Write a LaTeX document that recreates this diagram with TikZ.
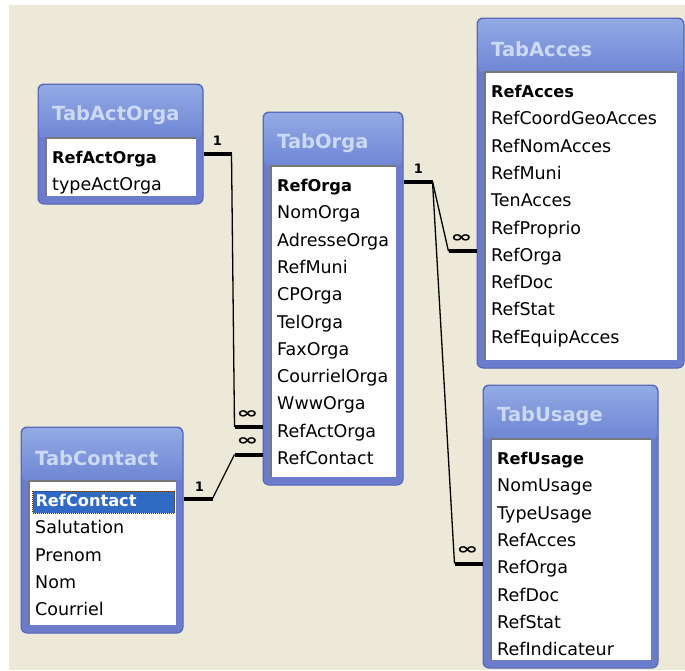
\documentclass[tikz,border=0pt]{standalone}
\usepackage{fontspec}
\setmainfont{DejaVu Sans}
\usetikzlibrary{calc,fit}
\definecolor{bg}{RGB}{236,233,216}
\definecolor{frame}{RGB}{108,124,204}
\definecolor{frameedge}{RGB}{84,98,178}
\definecolor{titletop}{RGB}{146,170,228}
\definecolor{titlebot}{RGB}{110,134,212}
\definecolor{titletext}{RGB}{204,217,243}
\definecolor{selblue}{RGB}{49,106,197}
\definecolor{listedgec}{RGB}{120,120,120}
\tikzset{
  framebox/.style={draw=frameedge, line width=1pt, fill=frame, rounded corners=6pt, inner sep=0pt},
  listbox/.style={fill=white, draw=none, inner sep=0pt},
  listedge/.style={draw=listedgec, line width=1.6pt},
  titletxt/.style={anchor=west, inner sep=0pt, text=titletext, font=\fontsize{19.5}{22}\selectfont\bfseries},
  rowtxt/.style={anchor=west, inner sep=0pt, text height=13pt, text depth=4pt, font=\fontsize{17.5}{20}\selectfont},
  keytxt/.style={anchor=west, inner xsep=3pt, inner ysep=0pt, text height=13pt, text depth=4pt, font=\fontsize{16.2}{20}\selectfont\bfseries},
  selkey/.style={fill=selblue, text=white, draw=black!60!orange, densely dotted, line width=1pt, minimum height=22pt, text width=136pt, align=left},
  thickbar/.style={line width=4pt},
  relline/.style={line width=1.3pt},
  onelbl/.style={font=\fontsize{13}{13}\selectfont\bfseries, inner sep=0pt},
  manylbl/.style={font=\fontsize{13}{13}\selectfont\bfseries, inner sep=0pt},
}
% #1 key style, #2 name, #3 x1, #4 y1, #5 x2, #6 y2, #7 title, #8 key, #9 fields
\newcommand\dbtable[9][]{%
  \node[framebox, fit={(#3,#4) (#5,#6)}] (#2) {};
  \shade[top color=titletop, bottom color=titlebot, rounded corners=5pt] (#3+1,#4+1) rectangle (#5-1,#4+54);
  \node[listbox, fit={(#3+8,#4+54) (#5-7,#6-8)}] (#2-list) {};
  \draw[listedge] (#2-list.south west) -- (#2-list.north west) -- (#2-list.north east);
  \node[titletxt] (#2-title) at (#3+14,#4+31) {#7};
  \node[keytxt,#1] (#2-key) at (#3+11,#4+75) {#8};
  \foreach \f [count=\i] in {#9} \node[rowtxt] (#2-\i) at (#3+14,#4+75+27.3*\i) {\f};
}
\begin{document}
\begin{tikzpicture}[x=1pt,y=-1pt]
\useasboundingbox (0,0) rectangle (685,670);
\fill[white] (0,0) rectangle (685,670);
\fill[bg] (9,5) rectangle (685,670);

\dbtable{actorga}{38}{84}{203}{204}{TabActOrga}{RefActOrga}{typeActOrga}
\dbtable{orga}{263}{112}{403}{485}{TabOrga}{RefOrga}{NomOrga,AdresseOrga,RefMuni,CPOrga,TelOrga,FaxOrga,CourrielOrga,WwwOrga,RefActOrga,RefContact}
\dbtable{acces}{477}{18}{684}{368}{TabAcces}{RefAcces}{RefCoordGeoAcces,RefNomAcces,RefMuni,TenAcces,RefProprio,RefOrga,RefDoc,RefStat,RefEquipAcces}
\dbtable{usage}{483}{385}{658}{668}{TabUsage}{RefUsage}{NomUsage,TypeUsage,RefAcces,RefOrga,RefDoc,RefStat,RefIndicateur}
\dbtable[selkey]{contact}{21}{427}{183}{633}{TabContact}{RefContact}{Salutation,Prenom,Nom,Courriel}

% TabActOrga -> TabOrga
\coordinate (c1s) at ($(actorga.east |- actorga-key)+(0,-5.5)$);
\coordinate (c1e) at ($(orga.west |- orga-9)+(0,-5.5)$);
\draw[thickbar] (c1s) -- ++(28,0) coordinate (c1a);
\draw[thickbar] (c1e) -- ++(-28,0) coordinate (c1b);
\draw[relline] (c1a) -- (c1b);
\node[onelbl] (l1) at ($(c1s)+(14,-13)$) {1};
\node[manylbl] (m1) at ($(c1b)+(13,-13)$) {\scalebox{2}[1.2]{∞}};

% TabContact -> TabOrga
\coordinate (c2s) at ($(contact.east |- contact-key)+(0,-3.5)$);
\coordinate (c2e) at ($(orga.west |- orga-10)+(0,-5.5)$);
\draw[thickbar] (c2s) -- ++(29,0) coordinate (c2a);
\draw[thickbar] (c2e) -- ++(-28,0) coordinate (c2b);
\draw[relline] (c2a) -- (c2b);
\node[onelbl] (l2) at ($(c2s)+(16,-12)$) {1};
\node[manylbl] (m2) at ($(c2b)+(13,-13)$) {\scalebox{2}[1.2]{∞}};

% TabOrga -> TabAcces and TabUsage
\coordinate (c3s) at ($(orga.east |- orga-key)+(0,-5.5)$);
\draw[thickbar] (c3s) -- ++(29,0) coordinate (c3a);
\node[onelbl] (l3) at ($(c3s)+(15,-13)$) {1};
\coordinate (c3e) at ($(acces.west |- acces-6)+(0,-5.5)$);
\draw[thickbar] (c3e) -- ++(-28,0) coordinate (c3b);
\draw[relline] (c3a) -- (c3b);
\node[manylbl] (m3) at ($(c3b)+(13,-13)$) {\scalebox{2}[1.2]{∞}};
\coordinate (c4e) at ($(usage.west |- usage-4)+(0,-5.5)$);
\draw[thickbar] (c4e) -- ++(-28,0) coordinate (c4b);
\draw[relline] (c3a) -- (c4b);
\node[manylbl] (m4) at ($(c4b)+(13,-13)$) {\scalebox{2}[1.2]{∞}};
\end{tikzpicture}
\end{document}
